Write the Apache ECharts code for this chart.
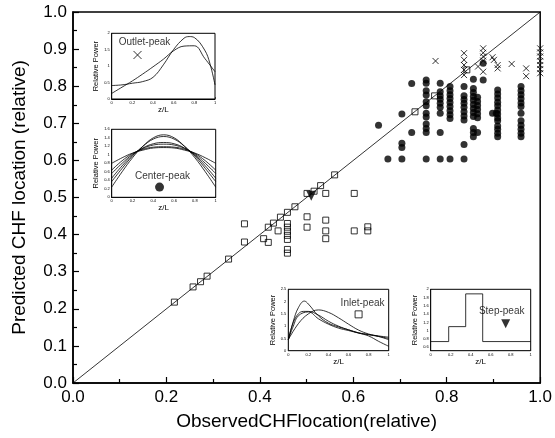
<!DOCTYPE html>
<html><head><meta charset="utf-8">
<script src="https://cdn.jsdelivr.net/npm/echarts@6/dist/echarts.min.js"></script>
<style>html,body{margin:0;padding:0;background:#fff}#c{width:555px;height:438px}</style>
</head><body><div id="c"></div>
<script>
// ---------- DATA ----------
const diagonal = [[0, 0], [1, 1]];

// Inlet-peak (open squares) [observed, predicted]
const inletPeak = [
  [0.217,0.218],[0.257,0.259],[0.273,0.273],[0.287,0.288],[0.333,0.334],
  [0.367,0.429],[0.367,0.380],
  [0.408,0.389],[0.418,0.379],[0.418,0.420],[0.429,0.431],[0.439,0.410],[0.444,0.447],
  [0.459,0.460],[0.459,0.430],[0.459,0.420],[0.459,0.409],[0.459,0.398],[0.459,0.387],[0.459,0.360],[0.459,0.350],
  [0.475,0.475],
  [0.501,0.511],[0.501,0.448],[0.501,0.420],
  [0.516,0.517],[0.530,0.532],
  [0.541,0.511],[0.541,0.439],[0.541,0.410],[0.541,0.389],
  [0.560,0.561],
  [0.602,0.511],[0.602,0.410],
  [0.631,0.421],[0.631,0.410],
  [0.732,0.731],[0.774,0.774],[0.843,0.844]
];

// Center-peak (filled circles): columns [observed, [predicted...]]
const centerPeakCols = [
  [0.654, [0.695]],
  [0.674, [0.604]],
  [0.704, [0.725,0.646,0.635,0.604]],
  [0.725, [0.807,0.675]],
  [0.756, [0.817,0.808,0.788,0.776,0.758,0.747,0.727,0.717,0.698,0.686,0.675,0.604]],
  [0.786, [0.808,0.785,0.774,0.765,0.754,0.743,0.727,0.675,0.604]],
  [0.807, [0.799,0.788,0.777,0.767,0.756,0.745,0.734,0.723,0.713,0.604]],
  [0.837, [0.799,0.774,0.764,0.754,0.743,0.731,0.720,0.709,0.643,0.604]],
  [0.857, [0.819,0.794,0.783,0.772,0.762,0.751,0.740,0.729,0.718,0.686,0.675,0.664]],
  [0.866, [0.770,0.759,0.748,0.737,0.726,0.715,0.675]],
  [0.878, [0.862,0.817]],
  [0.898, [0.727]],
  [0.906, [0.727]],
  [0.909, [0.790,0.779,0.768,0.757,0.747,0.736,0.725,0.714,0.707,0.693,0.684,0.673,0.664]],
  [0.959, [0.799,0.788,0.777,0.766,0.755,0.745,0.727,0.707,0.695,0.684,0.673,0.664]]
];

// Outlet-peak (crosses)
const outletPeak = [
  [0.776,0.868],
  [0.837,0.889],[0.837,0.871],[0.837,0.857],[0.837,0.844],[0.837,0.830],
  [0.878,0.902],[0.878,0.890],[0.878,0.880],[0.878,0.869],[0.878,0.839],
  [0.867,0.853],
  [0.898,0.878],[0.901,0.871],
  [0.909,0.857],[0.909,0.848],
  [0.939,0.860],
  [0.970,0.848],[0.970,0.827],
  [1.0,0.902],[1.0,0.891],[1.0,0.880],[1.0,0.868],[1.0,0.857],[1.0,0.846],[1.0,0.835]
];

// Step-peak (filled down triangle)
const stepPeak = [[0.510, 0.505]];

const xTicks = [0, 0.2, 0.4, 0.6, 0.8, 1.0];
const yTicks = [0, 0.1, 0.2, 0.3, 0.4, 0.5, 0.6, 0.7, 0.8, 0.9, 1.0];

// Inset power profiles [z/L, relative power]
const outletCurves = [
  [[0,0.41],[0.1,0.43],[0.2,0.48],[0.3,0.53],[0.4,0.66],[0.5,1.04],[0.6,1.51],[0.7,1.85],[0.75,1.9],[0.8,1.87],[0.9,1.49],[0.95,1.09],[1,0.43]],
  [[0,0.17],[0.1,0.36],[0.2,0.55],[0.3,0.76],[0.4,0.98],[0.5,1.21],[0.6,1.47],[0.7,1.61],[0.8,1.62],[0.9,1.24],[1,0.83]]
];
const centerCurves = [
  [[0,0.24],[0.1,0.6],[0.2,0.93],[0.3,1.2],[0.4,1.4],[0.5,1.47],[0.6,1.4],[0.7,1.2],[0.8,0.93],[0.9,0.6],[1,0.24]],
  [[0,0.37],[0.1,0.68],[0.2,0.97],[0.3,1.2],[0.4,1.37],[0.5,1.43],[0.6,1.37],[0.7,1.2],[0.8,0.97],[0.9,0.68],[1,0.37]],
  [[0,0.45],[0.1,0.74],[0.2,0.99],[0.3,1.16],[0.4,1.26],[0.5,1.29],[0.6,1.26],[0.7,1.16],[0.8,0.99],[0.9,0.74],[1,0.45]],
  [[0,0.56],[0.1,0.8],[0.2,1.01],[0.3,1.15],[0.4,1.23],[0.5,1.25],[0.6,1.23],[0.7,1.15],[0.8,1.01],[0.9,0.8],[1,0.56]],
  [[0,0.64],[0.1,0.86],[0.2,1.03],[0.3,1.13],[0.4,1.18],[0.5,1.19],[0.6,1.18],[0.7,1.13],[0.8,1.03],[0.9,0.86],[1,0.64]],
  [[0,0.8],[0.1,0.93],[0.2,1.04],[0.3,1.11],[0.4,1.16],[0.5,1.17],[0.6,1.16],[0.7,1.11],[0.8,1.04],[0.9,0.93],[1,0.8]]
];
const inletCurves = [
  [[0,0.45],[0.05,1.2],[0.1,1.75],[0.16,2.02],[0.2,1.9],[0.3,1.42],[0.4,1.12],[0.5,0.97],[0.6,0.85],[0.7,0.72],[0.8,0.6],[0.9,0.38],[1,0.18]],
  [[0,0.45],[0.05,1.15],[0.1,1.5],[0.15,1.6],[0.2,1.6],[0.3,1.45],[0.4,1.2],[0.5,1.0],[0.6,0.85],[0.7,0.73],[0.8,0.66],[0.9,0.6],[1,0.55]],
  [[0,0.45],[0.1,1.1],[0.2,1.5],[0.3,1.66],[0.4,1.56],[0.5,1.34],[0.6,1.08],[0.7,0.84],[0.8,0.68],[0.9,0.58],[1,0.45]],
  [[0,0.45],[0.05,1.0],[0.1,1.42],[0.2,1.58],[0.3,1.3],[0.4,1.08],[0.5,0.92],[0.6,0.82],[0.7,0.72],[0.8,0.65],[0.9,0.58],[1,0.5]]
];
const stepCurve = [[0,0.74],[0.18,1.1],[0.35,1.89],[0.52,0.74],[1,0.74]];

// Legend markers inside insets [z/L, relative power]
const outletKey = [[0.25, 1.34]];
const centerKey = [[0.46, 0.24]];
const inletKey  = [[0.70, 1.48]];
const stepKey   = [[0.75, 1.17]];

const stepYLabels = [0.6, 0.8, 1, 1.2, 1.4, 1.6, 1.8, 2];

// ---------- CHART ----------
const FONT = 'Liberation Sans, Arial, sans-serif';
const centerPeak = [];
centerPeakCols.forEach(c => c[1].forEach(y => centerPeak.push([c[0], y])));

const insetGrids = [
  {left: 111.7, top: 33.3, width: 103.3, height: 65.7},
  {left: 111.7, top: 129.3, width: 104, height: 68},
  {left: 288.3, top: 289.3, width: 100.4, height: 61.4},
  {left: 430.7, top: 289.3, width: 100, height: 61.4}
];

function insetX(i) {
  return {
    gridIndex: i + 1, type: 'value', min: 0, max: 1, interval: 0.2,
    name: 'z/L', nameLocation: 'middle', nameGap: 6,
    nameTextStyle: {fontFamily: FONT, fontSize: 8, color: '#000'},
    axisLine: {lineStyle: {color: '#000', width: 1}},
    axisTick: {inside: true, length: 2, lineStyle: {color: '#000', width: 0.6}},
    minorTick: {show: true, splitNumber: 2, length: 1.2, lineStyle: {color: '#000', width: 0.5}},
    axisLabel: {fontFamily: FONT, fontSize: 4, color: '#000', margin: 2},
    splitLine: {show: false}
  };
}
function insetY(i, min, max, interval, custom) {
  const a = {
    gridIndex: i + 1, type: 'value', min: min, max: max, interval: interval,
    name: 'Relative Power', nameLocation: 'middle', nameGap: 5,
    nameTextStyle: {fontFamily: FONT, fontSize: 7.5, color: '#000'},
    axisLine: {lineStyle: {color: '#000', width: 1}},
    axisTick: {inside: true, length: 2, lineStyle: {color: '#000', width: 0.6}},
    minorTick: {show: true, splitNumber: 2, length: 1.2, lineStyle: {color: '#000', width: 0.5}},
    axisLabel: {fontFamily: FONT, fontSize: 4, color: '#000', margin: 2},
    splitLine: {show: false}
  };
  if (custom) {
    a.axisLabel.customValues = custom;
    a.axisTick.customValues = custom;
    a.minorTick.show = false;
    delete a.interval;
  }
  return a;
}

const lineS = (i, d, extra) => Object.assign({
  type: 'line', xAxisIndex: i + 1, yAxisIndex: i + 1, data: d, smooth: 0.4,
  symbol: 'none', lineStyle: {color: '#000', width: 0.8}, z: 5, silent: true
}, extra || {});
const keyS = (i, d, name, symbol, size, rot, itemStyle, offset, dist) => ({
  type: 'scatter', xAxisIndex: i + 1, yAxisIndex: i + 1, data: d, symbol: symbol,
  symbolSize: size, symbolRotate: rot, itemStyle: itemStyle, z: 6,
  label: {show: true, formatter: name, position: 'top', distance: dist, offset: offset,
    fontFamily: FONT, fontSize: 10, color: '#000'}
});

const crossPath = 'path://M0,0L10,10M0,10L10,0';
const crossStyle = {color: 'none', borderColor: '#000', borderWidth: 1};
const squareStyle = {color: 'rgba(0,0,0,0)', borderColor: '#000', borderWidth: 1};

const series = [
  {type: 'line', data: diagonal, symbol: 'none', lineStyle: {color: '#000', width: 0.8}, z: 3},
  {type: 'scatter', data: inletPeak, symbol: 'rect', symbolSize: 6, itemStyle: squareStyle, z: 2},
  {type: 'scatter', data: centerPeak, symbol: 'circle', symbolSize: 7, itemStyle: {color: '#000'}, z: 2},
  {type: 'scatter', data: outletPeak, symbol: crossPath, symbolSize: 6, itemStyle: crossStyle, z: 2},
  {type: 'scatter', data: stepPeak, symbol: 'triangle', symbolRotate: 180, symbolSize: 10, itemStyle: {color: '#000'}, z: 4}
];
outletCurves.forEach(c => series.push(lineS(0, c)));
centerCurves.forEach(c => series.push(lineS(1, c)));
inletCurves.forEach(c => series.push(lineS(2, c)));
series.push(lineS(3, stepCurve, {smooth: false, step: 'end'}));
series.push(keyS(0, outletKey, 'Outlet-peak', crossPath, 8, 0, crossStyle, [7, 0], 1));
series.push(keyS(1, centerKey, 'Center-peak', 'circle', 9, 0, {color: '#000'}, [3, 0], 1));
series.push(keyS(2, inletKey, 'Inlet-peak', 'rect', 7, 0, squareStyle, [4, 0], 2));
series.push(keyS(3, stepKey, 'Step-peak', 'triangle', 9, 180, {color: '#000'}, [-4, 0], 2.5));

const option = {
  animation: false,
  backgroundColor: '#fff',
  grid: [
    {left: 73, right: 10, top: 12, bottom: 55, show: true, borderColor: '#000', borderWidth: 1.5, z: 0},
    ...insetGrids.map(g => Object.assign({show: true, borderColor: '#000', borderWidth: 1, backgroundColor: '#fff', z: 4}, g))
  ],
  xAxis: [
    {gridIndex: 0, type: 'value', min: xTicks[0], max: xTicks[xTicks.length - 1], interval: xTicks[1] - xTicks[0],
     name: 'ObservedCHFlocation(relative)', nameLocation: 'middle', nameGap: 29,
     nameTextStyle: {fontFamily: FONT, fontSize: 19, color: '#000'},
     axisLine: {lineStyle: {color: '#000', width: 1.5}},
     axisTick: {inside: true, length: 6, lineStyle: {color: '#000', width: 1.2}},
     minorTick: {show: true, splitNumber: 2, length: 4, lineStyle: {color: '#000', width: 1.2}},
     axisLabel: {fontFamily: FONT, fontSize: 17, color: '#000', margin: 6, formatter: v => v.toFixed(1)},
     splitLine: {show: false}},
    ...[0, 1, 2, 3].map(insetX)
  ],
  yAxis: [
    {gridIndex: 0, type: 'value', min: yTicks[0], max: yTicks[yTicks.length - 1], interval: yTicks[1] - yTicks[0],
     name: 'Predicted CHF location (relative)', nameLocation: 'middle', nameGap: 44,
     nameTextStyle: {fontFamily: FONT, fontSize: 19, color: '#000'},
     axisLine: {lineStyle: {color: '#000', width: 1.5}},
     axisTick: {inside: true, length: 6, lineStyle: {color: '#000', width: 1.2}},
     minorTick: {show: true, splitNumber: 2, length: 4, lineStyle: {color: '#000', width: 1.2}},
     axisLabel: {fontFamily: FONT, fontSize: 17, color: '#000', margin: 6, formatter: v => v.toFixed(1)},
     splitLine: {show: false}},
    insetY(0, 0, 2, 0.5),
    insetY(1, 0, 1.6, 0.2),
    insetY(2, 0, 2.5, 0.5),
    insetY(3, 0.52, 2, null, stepYLabels)
  ],
  series: series
};
const chart = echarts.init(document.getElementById('c'), null, {renderer: 'canvas'});
chart.setOption(option);
</script></body></html>
